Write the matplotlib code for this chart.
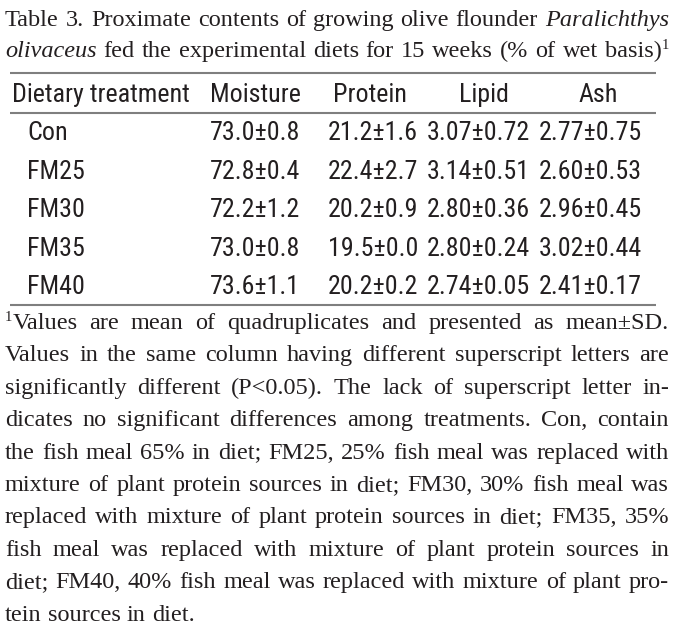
import matplotlib
matplotlib.use("Agg")
import matplotlib.pyplot as plt

# table data (mean, SD)
treatments = ['Con', 'FM25', 'FM30', 'FM35', 'FM40']
moisture_mean = [73.0, 72.8, 72.2, 73.0, 73.6]
moisture_sd = [0.8, 0.4, 1.2, 0.8, 1.1]
protein_mean = [21.2, 22.4, 20.2, 19.5, 20.2]
protein_sd = [1.6, 2.7, 0.9, 0.0, 0.2]
lipid_mean = [3.07, 3.14, 2.80, 2.80, 2.74]
lipid_sd = [0.72, 0.51, 0.36, 0.24, 0.05]
ash_mean = [2.77, 2.60, 2.96, 3.02, 2.41]
ash_sd = [0.75, 0.53, 0.45, 0.44, 0.17]
headers = ['Dietary treatment', 'Moisture', 'Protein', 'Lipid', 'Ash']

title_lines = [
    [("Table 3. Proximate contents of growing olive flounder", 'r'), ("Paralichthys", 'i')],
    [("olivaceus", 'i'), ("fed the experimental diets for 15 weeks (% of wet basis)", 'r'), ("1", 's')],
]
note_lines = [
    [("1", 's'), ("Values are mean of quadruplicates and presented as mean±SD.", 'r')],
    [("Values in the same column having different superscript letters are", 'r')],
    [("significantly different (P<0.05). The lack of superscript letter in-", 'r')],
    [("dicates no significant differences among treatments. Con, contain", 'r')],
    [("the fish meal 65% in diet; FM25, 25% fish meal was replaced with", 'r')],
    [("mixture of plant protein sources in diet; FM30, 30% fish meal was", 'r')],
    [("replaced with mixture of plant protein sources in diet; FM35, 35%", 'r')],
    [("fish meal was replaced with mixture of plant protein sources in", 'r')],
    [("diet; FM40, 40% fish meal was replaced with mixture of plant pro-", 'r')],
    [("tein sources in diet.", 'r')],
]

TXT = '#231f20'
SERIF = 'Liberation Serif'
SANS = ['Roboto Condensed', 'Liberation Sans']

fig = plt.figure(figsize=(6.76, 6.44), dpi=100)
ax = fig.add_axes([0, 0, 1, 1])
ax.set_xlim(0, 676)
ax.set_ylim(644, 0)
ax.axis('off')
renderer = fig.canvas.get_renderer()


def measure(s, size, style='normal', family=SERIF):
    t = ax.text(0, 0, s, fontsize=size, style=style, family=family)
    w = t.get_window_extent(renderer).width
    t.remove()
    return w


def to_words(segs):
    words = []
    glue = False
    for txt, kind in segs:
        if kind == 's':
            if words:
                words[-1].append((txt, 's'))
            else:
                words.append([(txt, 's')])
                glue = True
            continue
        for w in txt.split():
            if glue:
                words[-1].append((w, kind))
                glue = False
            else:
                words.append([(w, kind)])
    return words


def piece_w(p, size):
    txt, kind = p
    if kind == 's':
        return measure(txt, size * 0.6)
    return measure(txt, size, 'italic' if kind == 'i' else 'normal')


def natural(words, size, squeeze=1.0):
    sp = (measure('x x', size) - measure('xx', size)) * squeeze
    return sum(piece_w(p, size) for w in words for p in w) + sp * (len(words) - 1)


def draw_line(words, y, size, x0=5, x1=669, justify=True):
    ww = [sum(piece_w(p, size) for p in w) for w in words]
    sp = measure('x x', size) - measure('xx', size)
    if justify and len(words) > 1:
        sp = (x1 - x0 - sum(ww)) / (len(words) - 1)
    x = x0
    for w, width in zip(words, ww):
        for p in w:
            txt, kind = p
            if kind == 's':
                ax.text(x, y - size * 0.45, txt, fontsize=size * 0.6, family=SERIF,
                        color=TXT, va='baseline')
            else:
                ax.text(x, y, txt, fontsize=size, family=SERIF, color=TXT, va='baseline',
                        style='italic' if kind == 'i' else 'normal')
            x += piece_w(p, size)
        x += sp


# fit serif sizes so the tightest justified line still fits
t_words = [to_words(l) for l in title_lines]
n_words = [to_words(l) for l in note_lines]
fs_t = min(17.5, min(664 / natural(w, 10, 0.7) * 10 for w in t_words))
fs_n = min(17.5, min(664 / natural(w, 10, 0.75) * 10 for w in n_words[:-1]))

draw_line(t_words[0], 26, fs_t)
draw_line(t_words[1], 57, fs_t)

for k, w in enumerate(n_words):
    draw_line(w, 329 + k * 32.4, fs_n, justify=(k < len(n_words) - 1))

# table rules
for yy in [73, 113, 305]:
    ax.plot([10, 656], [yy, yy], color='#7f7f7f', lw=1.5, solid_capstyle='butt')

# size the table font so the first header is as wide as in the reference
tfs = 176 / measure(headers[0], 10, family=SANS) * 10
head_x = [12, 255, 370, 484, 598]
ax.text(head_x[0], 102, headers[0], fontsize=tfs, family=SANS, color=TXT, va='baseline')
for hx, h in zip(head_x[1:], headers[1:]):
    ax.text(hx, 102, h, fontsize=tfs, family=SANS, color=TXT, va='baseline', ha='center')

col_x = [255, 373, 478, 590]
cols = [(moisture_mean, moisture_sd, 1), (protein_mean, protein_sd, 1),
        (lipid_mean, lipid_sd, 2), (ash_mean, ash_sd, 2)]
for i, name in enumerate(treatments):
    yb = 140 + i * 38.5
    ax.text(27, yb, name, fontsize=tfs, family=SANS, color=TXT, va='baseline')
    for cx, (m, s, d) in zip(col_x, cols):
        ax.text(cx, yb, f"{m[i]:.{d}f}±{s[i]:.{d}f}", fontsize=tfs, family=SANS,
                color=TXT, va='baseline', ha='center')

fig.savefig('out.png', dpi=100)
